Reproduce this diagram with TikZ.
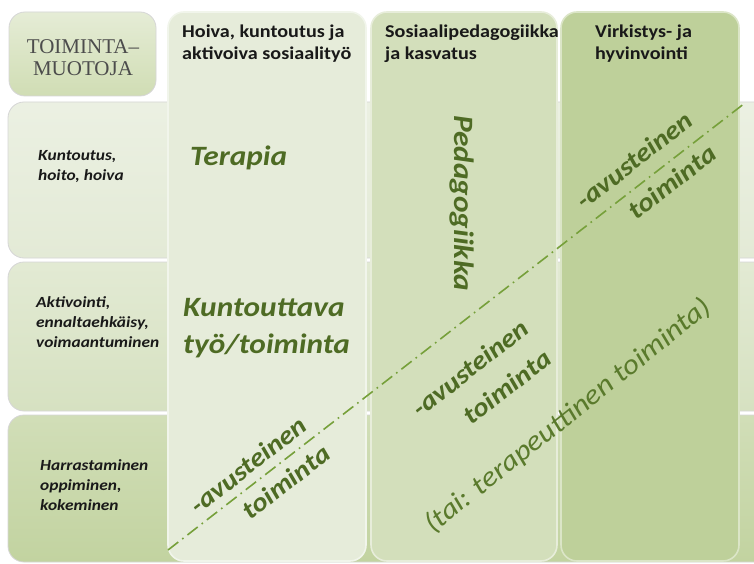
\documentclass[tikz,border=0pt]{standalone}
\usepackage{fontspec}
\setmainfont[FakeStretch=1.12]{Carlito}
\newfontfamily\seriff{Liberation Serif}
\definecolor{txtgreen}{HTML}{4E6B24}
\definecolor{linegreen}{HTML}{76A03A}
\definecolor{taigreen}{HTML}{5A7A2C}
\definecolor{rowA}{HTML}{E3EAD6}
\definecolor{rowB}{HTML}{D6E1C1}
\definecolor{rowC}{HTML}{C2D3A0}
\definecolor{colA}{HTML}{E6ECDA}
\definecolor{colB}{HTML}{D3DFBB}
\definecolor{colC}{HTML}{BED09A}
\definecolor{headbox}{HTML}{D0DDB4}
\tikzset{
  panel/.style={rounded corners=16pt, draw=black!16, line width=0.8pt},
  colpanel/.style={rounded corners=16pt, draw=white!45!#1, line width=1.6pt, fill=#1},
  headtxt/.style={anchor=north west, align=left, font=\fontsize{18}{22}\selectfont\bfseries, text=black!90, inner sep=0pt},
  rowtxt/.style={anchor=west, align=left, font=\fontsize{15.5}{20}\selectfont\bfseries\itshape, text=black!90, inner sep=0pt},
  bigtxt/.style={font=\fontsize{28}{37}\selectfont\bfseries\itshape, text=txtgreen, inner sep=0pt},
  avtxt/.style={font=\fontsize{26}{30}\selectfont\bfseries\itshape, text=txtgreen, inner sep=0pt, rotate=38},
}
\begin{document}
\begin{tikzpicture}[x=1pt,y=-1pt]
\useasboundingbox (0,0) rectangle (754,564);
\clip (0,0) rectangle (754,564);
\fill[white] (0,0) rectangle (754,564);
% header box
\path[panel, top color=headbox!55!white, bottom color=headbox] (9,12) rectangle (156,96);
\node[font=\seriff\fontsize{21}{22}\selectfont, text=black!70, align=center] (tm) at (83,58) {TOIMINTA–\\MUOTOJA};
% rows
\path[panel, top color=rowA!70!white, bottom color=rowA] (8,102) rectangle (780,258);
\path[panel, top color=rowB!70!white, bottom color=rowB] (8,262) rectangle (780,411);
\path[panel, top color=rowC!75!white, bottom color=rowC] (8,415) rectangle (780,562);
% columns
\path[colpanel=colA] (168,12) rectangle (366,561);
\path[colpanel=colB] (371,12) rectangle (557,561);
\path[colpanel=colC] (561,12) rectangle (739,561);
% column headers
\node[headtxt] (h1) at (182,25) {Hoiva, kuntoutus ja\\aktivoiva sosiaalityö};
\node[headtxt] (h2) at (385,25) {Sosiaalipedagogiikka\\ja kasvatus};
\node[headtxt] (h3) at (595,25) {Virkistys- ja\\hyvinvointi};
% row labels
\node[rowtxt] (r1) at (38,167) {Kuntoutus,\\hoito, hoiva};
\node[rowtxt] (r2) at (36,322) {Aktivointi,\\ennaltaehkäisy,\\voimaantuminen};
\node[rowtxt] (r3) at (40,485) {Harrastaminen\\oppiminen,\\kokeminen};
% big texts
\node[bigtxt, anchor=west] (ter) at (190,158) {Terapia};
\node[bigtxt, anchor=west, align=left] (kun) at (183,328) {Kuntouttava\\työ/toiminta};
\node[bigtxt, rotate=-90] (ped) at (462,203) {Pedagogiikka};
% diagonal line
\coordinate (ls) at (168,550);
\coordinate (le) at (745,103);
\draw[linegreen, line width=1.6pt, dash pattern=on 13pt off 5pt on 1.6pt off 5pt] (ls) -- (le);
% avusteinen texts
\node[avtxt] (a1) at (248,465) {-avusteinen};
\node[avtxt] (t1) at (286,482) {toiminta};
\node[avtxt] (a2) at (470,368) {-avusteinen};
\node[avtxt] (t2) at (507,387) {toiminta};
\node[avtxt] (a3) at (634,160) {-avusteinen};
\node[avtxt] (t3) at (672,182) {toiminta};
\node[font=\fontsize{28}{30}\selectfont\itshape, text=taigreen, rotate=38.6, inner sep=0pt] (tai) at (568,416) {(tai: terapeuttinen toiminta)};
\end{tikzpicture}
\end{document}
